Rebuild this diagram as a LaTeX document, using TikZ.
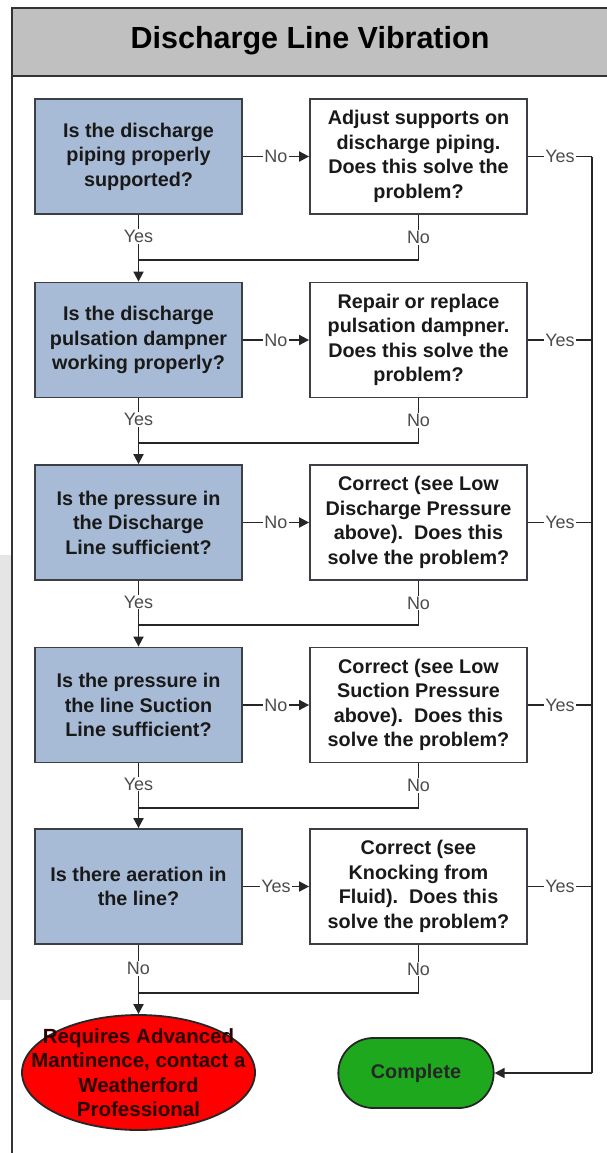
\documentclass[tikz,border=0pt]{standalone}
\usepackage{fontspec}
\setmainfont{Liberation Sans}
\usetikzlibrary{arrows.meta,shapes.misc,shapes.geometric}
\definecolor{qblue}{RGB}{168,187,214}
\definecolor{bandgray}{RGB}{192,192,192}
\definecolor{stopred}{RGB}{255,0,0}
\definecolor{okgreen}{RGB}{30,168,30}
\definecolor{edge}{RGB}{60,64,70}
\begin{document}
\begin{tikzpicture}[x=1pt,y=-1pt,
  qbox/.style={draw=edge, line width=1.8pt, fill=qblue, minimum width=207pt,
    minimum height=115pt, align=center, inner sep=0pt,
    font=\bfseries\fontsize{19.8}{24.5}\selectfont, text=black!90},
  abox/.style={qbox, fill=white, minimum width=217pt},
  lbl/.style={fill=white, inner sep=1pt, font=\fontsize{18}{18}\selectfont, text=black!70},
  link/.style={draw=black!85, line width=1.8pt},
  arr/.style={link, -{Triangle[length=10pt,width=10pt]}},
  endshape/.style={draw=black!85, line width=1.8pt}]

\useasboundingbox (0,0) rectangle (607,1153);

% faint shading at the left margin
\fill[black!10] (0,555) rectangle (12,1000);

% frame and title band
\filldraw[fill=bandgray, draw=black!80, line width=1.8pt] (607,8) -- (12,8) -- (12,76) -- (607,76);
\draw[black!80, line width=1.8pt] (12,8) -- (12,1153);
\node (title) at (310,41) {\bfseries\fontsize{30.5}{30.5}\selectfont Discharge Line Vibration};

% questions
\node[qbox] (q1) at (138.5,156.5) {Is the discharge\\piping properly\\supported?};
\node[qbox] (q2) at (138.5,340) {Is the discharge\\pulsation dampner\\working properly?};
\node[qbox] (q3) at (138.5,522.5) {Is the pressure in\\the Discharge\\Line sufficient?};
\node[qbox] (q4) at (138.5,705) {Is the pressure in\\the line Suction\\Line sufficient?};
\node[qbox] (q5) at (138.5,886.5) {Is there aeration in\\the line?};

% actions
\node[abox] (a1) at (418.5,156.5) {Adjust supports on\\discharge piping.\\Does this solve the\\problem?};
\node[abox] (a2) at (418.5,340) {Repair or replace\\pulsation dampner.\\Does this solve the\\problem?};
\node[abox] (a3) at (418.5,522.5) {Correct (see Low\\Discharge Pressure\\above).\ \ Does this\\solve the problem?};
\node[abox] (a4) at (418.5,705) {Correct (see Low\\Suction Pressure\\above).\ \ Does this\\solve the problem?};
\node[abox] (a5) at (418.5,886.5) {Correct (see\\Knocking from\\Fluid).\ \ Does this\\solve the problem?};

% terminals
\node[endshape, ellipse, fill=stopred, minimum width=233pt, minimum height=115pt, inner sep=0pt] (fail) at (138.5,1072.5) {};
\node[align=center, font=\bfseries\fontsize{20.5}{24.5}\selectfont, text=black!85!red] (failtext) at (fail.center)
  {Requires Advanced\\Mantinence, contact a\\Weatherford\\Professional};
\node[endshape, rounded rectangle, fill=okgreen, minimum width=162pt, minimum height=70pt,
  font=\bfseries\fontsize{19.8}{24.5}\selectfont, text=black!85] (done) at (416,1073) {Complete};

% merge points and right return line
\coordinate (m1) at (138.5,260);
\coordinate (m2) at (138.5,443);
\coordinate (m3) at (138.5,625);
\coordinate (m4) at (138.5,808);
\coordinate (m5) at (138.5,993);
\coordinate (rx) at (592,1073);

% question -> action
\draw[arr] (q1) -- node[lbl]{No} (a1);
\draw[arr] (q2) -- node[lbl]{No} (a2);
\draw[arr] (q3) -- node[lbl]{No} (a3);
\draw[arr] (q4) -- node[lbl]{No} (a4);
\draw[arr] (q5) -- node[lbl]{Yes} (a5);

% question -> next question
\draw[arr] (q1.south) -- node[lbl, pos=0.32]{Yes} (q2.north);
\draw[arr] (q2.south) -- node[lbl, pos=0.32]{Yes} (q3.north);
\draw[arr] (q3.south) -- node[lbl, pos=0.32]{Yes} (q4.north);
\draw[arr] (q4.south) -- node[lbl, pos=0.32]{Yes} (q5.north);
\draw[arr] (q5.south) -- node[lbl, pos=0.34]{No} (fail.north);

% action "No" -> merge
\draw[link] (a1.south) -- node[lbl]{No} (a1.south |- m1) -- (m1);
\draw[link] (a2.south) -- node[lbl]{No} (a2.south |- m2) -- (m2);
\draw[link] (a3.south) -- node[lbl]{No} (a3.south |- m3) -- (m3);
\draw[link] (a4.south) -- node[lbl]{No} (a4.south |- m4) -- (m4);
\draw[link] (a5.south) -- node[lbl]{No} (a5.south |- m5) -- (m5);

% action "Yes" -> complete
\draw[link] (a1.east -| rx) -- (rx);
\draw[link] (a1.east) -- node[lbl]{Yes} (a1.east -| rx);
\draw[link] (a2.east) -- node[lbl]{Yes} (a2.east -| rx);
\draw[link] (a3.east) -- node[lbl]{Yes} (a3.east -| rx);
\draw[link] (a4.east) -- node[lbl]{Yes} (a4.east -| rx);
\draw[link] (a5.east) -- node[lbl]{Yes} (a5.east -| rx);
\draw[arr] (rx) -- (done.east);
\end{tikzpicture}
\end{document}
